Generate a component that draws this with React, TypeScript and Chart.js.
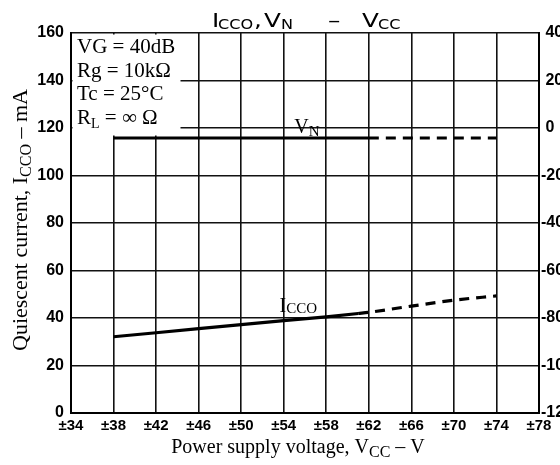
import React, { useEffect, useRef } from "react";
import { Chart, registerables } from "chart.js";
Chart.register(...registerables);

// Data
const xTickValues = [34, 38, 42, 46, 50, 54, 58, 62, 66, 70, 74, 78];
const iccoSolidX = [38, 42, 46, 50, 54, 58, 61];
const iccoSolidY = [32.1, 33.8, 35.5, 37.2, 38.9, 40.5, 41.9];
const iccoDashX = [61, 62, 66, 70, 74];
const iccoDashY = [41.9, 42.4, 45.0, 47.5, 49.3];
const vnSolidX = [38, 62];
const vnSolidY = [-4.2, -4.2];
const vnDashX = [62, 74];
const vnDashY = [-4.2, -4.2];
const conditions = ["VG = 40dB", "Rg = 10kΩ", "Tc = 25°C"];

const SANS = '"Liberation Sans", Arial, sans-serif';
const WIDE = '"DejaVu Sans", "Liberation Sans", sans-serif';
const SERIF = '"Liberation Serif", "Times New Roman", serif';

type Part = [string, string, number];

function drawParts(ctx: CanvasRenderingContext2D, x: number, y: number, parts: Part[]) {
  let cx = x;
  for (const [t, f, dy] of parts) {
    ctx.font = f;
    ctx.fillText(t, cx, y + dy);
    cx += ctx.measureText(t).width;
  }
  return cx - x;
}
function measureParts(ctx: CanvasRenderingContext2D, parts: Part[]) {
  let w = 0;
  for (const [t, f] of parts) {
    ctx.font = f;
    w += ctx.measureText(t).width;
  }
  return w;
}
function wideText(ctx: CanvasRenderingContext2D, t: string, x: number, y: number, font: string, sx: number) {
  ctx.save();
  ctx.font = font;
  ctx.translate(x, y);
  ctx.scale(sx, 1);
  ctx.fillText(t, 0, 0);
  ctx.restore();
}

const overlay = {
  id: "overlay",
  beforeDatasetsDraw(chart: any) {
    const ctx: CanvasRenderingContext2D = chart.ctx;
    const { left, top } = chart.chartArea;
    ctx.save();
    ctx.fillStyle = "#fff";
    ctx.fillRect(left + 1.5, top + 1.5, 108, 101);
    ctx.fillStyle = "#000";
    ctx.textBaseline = "alphabetic";
    ctx.textAlign = "left";
    const f = `21px ${SERIF}`;
    conditions.forEach((c, i) => {
      ctx.font = f;
      ctx.fillText(c, left + 6, top + 20 + i * 23.7);
    });
    drawParts(ctx, left + 6, top + 20 + 3 * 23.7, [
      ["R", f, 0],
      ["L", `14px ${SERIF}`, 4],
      [" = ∞ Ω", f, 0],
    ]);
    ctx.restore();
  },
  afterDraw(chart: any) {
    const ctx: CanvasRenderingContext2D = chart.ctx;
    const xs = chart.scales.x;
    const ys = chart.scales.y;
    const { top, bottom } = chart.chartArea;
    ctx.save();
    ctx.fillStyle = "#000";
    ctx.textBaseline = "alphabetic";
    ctx.textAlign = "left";
    // Title, pieces placed to match the wide lettering of the original
    const tf = `19px ${WIDE}`;
    const ts = `14px ${WIDE}`;
    const ty = 27;
    const sx = 1.3;
    const ss = 1.15;
    wideText(ctx, "I", 212, ty, tf, sx);
    wideText(ctx, "CCO", 218, ty + 2, ts, ss);
    wideText(ctx, ",", 254, ty, tf, sx);
    wideText(ctx, "V", 264, ty, tf, sx);
    wideText(ctx, "N", 281, ty + 2, ts, ss);
    wideText(ctx, "–", 328, ty, tf, sx);
    wideText(ctx, "V", 362, ty, tf, sx);
    wideText(ctx, "CC", 378, ty + 2, ts, ss);

    // Line labels
    const lf = `20px ${SERIF}`;
    const lsub = `15px ${SERIF}`;
    drawParts(ctx, xs.getPixelForValue(55.0), ys.getPixelForValue(120) + 5, [
      ["V", lf, 0],
      ["N", lsub, 3],
    ]);
    drawParts(ctx, xs.getPixelForValue(53.6), ys.getPixelForValue(42) - 1, [
      ["I", lf, 0],
      ["CCO", lsub, 1],
    ]);

    // X axis title
    const xf = `20px ${SERIF}`;
    const xsub = `16px ${SERIF}`;
    const xParts: Part[] = [
      ["Power supply voltage, V", xf, 0],
      ["CC", xsub, 4],
      [" – V", xf, 0],
    ];
    const xw = measureParts(ctx, xParts);
    drawParts(ctx, 298 - xw / 2, 453, xParts);

    // Y axis title
    const yf = `22px ${SERIF}`;
    const ysub = `16px ${SERIF}`;
    const yParts: Part[] = [
      ["Quiescent current, I", yf, 0],
      ["CCO", ysub, 4],
      [" – mA", yf, 0],
    ];
    const yw = measureParts(ctx, yParts);
    ctx.translate(27, (top + bottom) / 2 - 3);
    ctx.rotate(-Math.PI / 2);
    drawParts(ctx, -yw / 2, 0, yParts);
    ctx.restore();
  },
};

const toPts = (xs: number[], ys: number[]) => xs.map((x, i) => ({ x, y: ys[i] }));

export default function App() {
  const ref = useRef<HTMLCanvasElement>(null);
  useEffect(() => {
    if (!ref.current) return;
    const gridColor = "#111";
    const chart = new Chart(ref.current, {
      type: "line",
      data: {
        datasets: [
          {
            label: "ICCO",
            data: toPts(iccoSolidX, iccoSolidY),
            borderColor: "#000",
            borderWidth: 3.2,
            pointRadius: 0,
            yAxisID: "y",
          },
          {
            label: "ICCO (ext)",
            data: toPts(iccoDashX, iccoDashY),
            borderColor: "#000",
            borderWidth: 3.2,
            borderDash: [10, 7],
            pointRadius: 0,
            yAxisID: "y",
            cubicInterpolationMode: "monotone",
          },
          {
            label: "VN",
            data: toPts(vnSolidX, vnSolidY),
            borderColor: "#000",
            borderWidth: 3.2,
            pointRadius: 0,
            yAxisID: "y2",
          },
          {
            label: "VN (ext)",
            data: toPts(vnDashX, vnDashY),
            borderColor: "#000",
            borderWidth: 3.2,
            borderDash: [10, 7],
            pointRadius: 0,
            yAxisID: "y2",
          },
        ],
      },
      options: {
        animation: false,
        responsive: false,
        maintainAspectRatio: false,
        layout: { padding: { top: 33, left: 0, right: 0, bottom: 0 } },
        plugins: { legend: { display: false }, tooltip: { enabled: false }, title: { display: false } },
        scales: {
          x: {
            type: "linear",
            min: 34,
            max: 78,
            afterBuildTicks: (s: any) => {
              s.ticks = xTickValues.map((v) => ({ value: v }));
            },
            afterFit: (s: any) => {
              s.height = 52;
            },
            grid: { color: gridColor, lineWidth: 1.6, drawTicks: false },
            border: { color: "#000", width: 2 },
            ticks: {
              autoSkip: false,
              maxRotation: 0,
              padding: 4,
              color: "#000",
              font: { family: SANS, size: 15, weight: "bold" },
              callback: (v: any) => "±" + v,
            },
          },
          y: {
            type: "linear",
            position: "left",
            min: 0,
            max: 160,
            afterFit: (s: any) => {
              s.width = 71;
            },
            grid: { color: gridColor, lineWidth: 1.6, drawTicks: false },
            border: { color: "#000", width: 2 },
            ticks: {
              stepSize: 20,
              padding: 7,
              color: "#000",
              font: { family: SANS, size: 16, weight: "bold" },
            },
          },
          y2: {
            type: "linear",
            position: "right",
            min: -120,
            max: 40,
            afterFit: (s: any) => {
              s.width = 21;
            },
            grid: { drawOnChartArea: false, drawTicks: false },
            border: { color: "#000", width: 2 },
            ticks: {
              stepSize: 20,
              padding: 2,
              color: "#000",
              font: { family: SANS, size: 16, weight: "bold" },
              callback: (v: any) => (v < 0 ? "-" + Math.abs(v) : " " + v),
            },
          },
        },
      },
      plugins: [overlay],
    } as any);
    return () => chart.destroy();
  }, []);
  return (
    <div style={{ position: "absolute", left: 0, top: 0, width: 560, height: 465, background: "#fff" }}>
      <canvas ref={ref} width={560} height={465} style={{ width: 560, height: 465, display: "block" }} />
    </div>
  );
}
